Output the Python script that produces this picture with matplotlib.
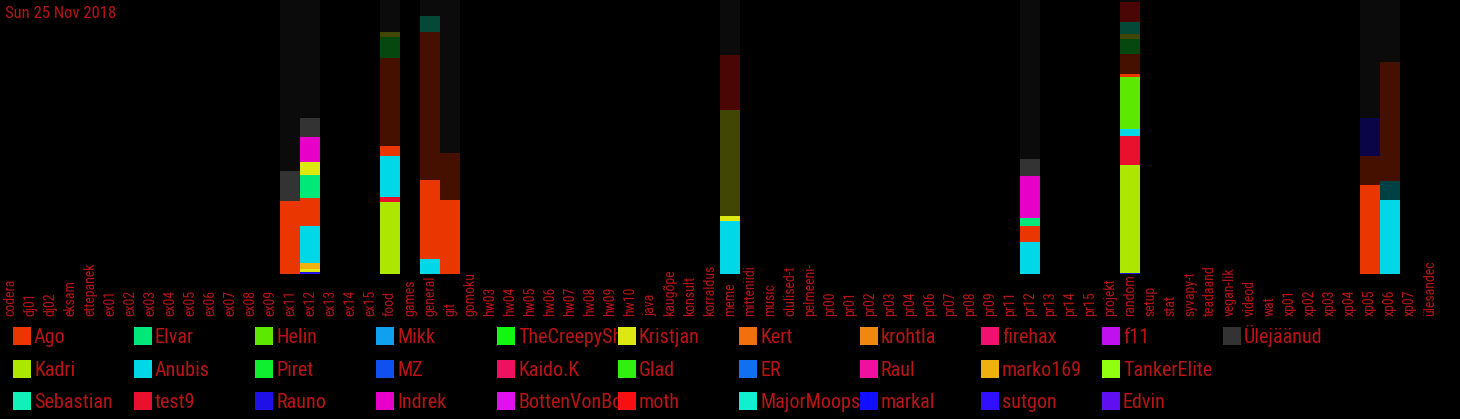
import matplotlib
matplotlib.use("Agg")
import matplotlib.pyplot as plt
import matplotlib.font_manager as fm
from matplotlib.patches import Rectangle
from matplotlib.transforms import blended_transform_factory, Bbox, TransformedBbox
from matplotlib.colors import to_rgb

# kanalid (x-telg)
channels = ["codera", "dj01", "dj02", "eksam", "ettepanek", "ex01", "ex02", "ex03",
            "ex04", "ex05", "ex06", "ex07", "ex08", "ex09", "ex11", "ex12", "ex13",
            "ex14", "ex15", "food", "games", "general", "git", "gomoku", "hw03",
            "hw04", "hw05", "hw06", "hw07", "hw08", "hw09", "hw10", "java", "kaugõpe",
            "konsult", "korraldus", "meme", "mitteniidi", "music", "olulised-t",
            "pelmeeni-", "pr00", "pr01", "pr02", "pr03", "pr04", "pr06", "pr07", "pr08",
            "pr09", "pr11", "pr12", "pr13", "pr14", "pr15", "projekt", "random", "setup",
            "stat", "syvapy-t", "teadaand", "vegan-lik", "videod", "wat", "xp01", "xp02",
            "xp03", "xp04", "xp05", "xp06", "xp07", "ülesandec"]

# kasutajad ja värvid (legendi järjekord)
users = ["Ago", "Kadri", "Sebastian", "Elvar", "Anubis", "test9", "Helin", "Piret",
         "Rauno", "Mikk", "MZ", "Indrek", "TheCreepySh", "Kaido.K", "BottenVonBot",
         "Kristjan", "Glad", "moth", "Kert", "ER", "MajorMoopsy", "krohtla", "Raul",
         "markal", "firehax", "marko169", "sutgon", "f11", "TankerElite", "Edvin",
         "Ülejäänud"]
user_colors = ["#ea3600", "#ade600", "#10f0b8", "#00e878", "#00d8e8", "#e8102c",
               "#5ce800", "#10ee30", "#2010e8", "#10a0f0", "#1050f0", "#e600c8",
               "#10f810", "#f01060", "#e010f0", "#dce810", "#30f010", "#f81010",
               "#f07010", "#1070f0", "#10f0d0", "#f08810", "#f010a0", "#1010ff",
               "#f01070", "#f0b010", "#3010ff", "#c010f0", "#90ff10", "#6010f0",
               "#333333"]

# osakaalud (%), alt üles; "~" = varasem periood (tumedam)
ex11_who = ["Ago", "Ülejäänud", "~Ülejäänud"]
ex11_val = [26.7, 11.0, 62.3]
ex12_who = ["Rauno", "Kristjan", "marko169", "Anubis", "Ago", "Elvar", "Kristjan",
            "Indrek", "Ülejäänud", "~Ülejäänud"]
ex12_val = [0.7, 1.1, 2.2, 13.6, 10.3, 8.4, 4.4, 9.2, 7.0, 43.1]
food_who = ["Kadri", "test9", "Anubis", "Ago", "~Ago", "~Piret", "~Kristjan", "~Ülejäänud"]
food_val = [26.4, 1.8, 14.7, 3.7, 32.2, 7.7, 1.8, 11.7]
general_who = ["Anubis", "Ago", "~Ago", "~Sebastian", "~Ülejäänud"]
general_val = [5.5, 28.9, 53.8, 5.9, 5.9]
git_who = ["Ago", "~Ago", "~Ülejäänud"]
git_val = [27.1, 17.2, 55.7]
meme_who = ["Anubis", "Kristjan", "~Kristjan", "~moth", "~Ülejäänud"]
meme_val = [19.4, 1.8, 38.5, 20.1, 20.2]
pr12_who = ["Anubis", "Ago", "Elvar", "Indrek", "Ülejäänud", "~Ülejäänud"]
pr12_val = [11.7, 5.9, 2.9, 15.4, 5.9, 58.2]
random_who = ["Rauno", "Kadri", "test9", "Anubis", "Helin", "Ago", "~Ago", "~Piret",
              "~Kristjan", "~Sebastian", "~moth", "~Ülejäänud"]
random_val = [0.4, 39.3, 10.5, 2.6, 19.0, 1.1, 7.3, 5.5, 1.8, 4.4, 7.3, 0.8]
xp05_who = ["Ago", "~Ago", "~Rauno", "~Ülejäänud"]
xp05_val = [32.6, 10.3, 13.9, 43.2]
xp06_who = ["Anubis", "~Anubis", "~Ago", "~Ülejäänud"]
xp06_val = [27.1, 7.0, 43.2, 22.7]

bars = {"ex11": (ex11_who, ex11_val), "ex12": (ex12_who, ex12_val),
        "food": (food_who, food_val), "general": (general_who, general_val),
        "git": (git_who, git_val), "meme": (meme_who, meme_val),
        "pr12": (pr12_who, pr12_val), "random": (random_who, random_val),
        "xp05": (xp05_who, xp05_val), "xp06": (xp06_who, xp06_val)}

date_text = "Sun 25 Nov 2018"

TXT = "#b81414"
cmap = dict(zip(users, user_colors))

# kitsas font, kui leidub
fp = fm.FontProperties(family="DejaVu Sans")
paths = [f.fname for f in fm.fontManager.ttflist]
for key in ["LiberationSansNarrow-Regular", "RobotoCondensed-Regular",
            "OpenSansCondensed", "DejaVuSansCondensed.ttf", "Roboto-Condensed"]:
    hit = [p for p in paths if key in p]
    if hit:
        fp = fm.FontProperties(fname=hit[0])
        break


def color_of(who):
    if who.startswith("~"):
        r, g, b = to_rgb(cmap[who[1:]])
        k = 0.22 if who == "~Ülejäänud" else 0.3
        return (r * k, g * k, b * k)
    return cmap[who]


W, H = 1460, 419
fig = plt.figure(figsize=(W / 100, H / 100), dpi=100, facecolor="black")
ax = fig.add_axes([0, 145 / H, 1440 / W, 274 / H])
ax.set_facecolor("black")

for name, (who, vals) in bars.items():
    i = channels.index(name)
    bottom = 0
    for w, v in zip(who, vals):
        ax.bar(i, v, bottom=bottom, width=1.0, color=color_of(w), linewidth=0)
        bottom += v

ax.set_xlim(-0.5, len(channels) - 0.5)
ax.set_ylim(0, 100)
ax.axis("off")

# kanalite nimed
tr = blended_transform_factory(ax.transData, fig.transFigure)
for i, ch in enumerate(channels):
    ax.text(i, (H - 316) / H, ch, transform=tr, rotation=90, ha="center",
            va="bottom", color=TXT, fontproperties=fp, fontsize=10, clip_on=False)

fig.text(5 / W, 1 - 13 / H, date_text, color=TXT, fontproperties=fp, fontsize=12,
         va="center", ha="left")

# legend
for k, (u, c) in enumerate(zip(users, user_colors)):
    col, row = k // 3, k % 3
    x0 = 13 + col * 121
    y0 = 327 + row * 32.5
    t = fig.text((x0 + 21) / W, 1 - (y0 + 16) / H, u, color=TXT, fontproperties=fp,
                 fontsize=14.5, va="baseline", ha="left", zorder=1)
    box = Bbox.from_extents((x0 + 20) / W, 1 - (y0 + 26) / H, (x0 + 121) / W, 1 - (y0 - 6) / H)
    t.set_clip_box(TransformedBbox(box, fig.transFigure))
    t.set_clip_on(True)
    fig.patches.append(Rectangle((x0 / W, 1 - (y0 + 18) / H), 18 / W, 18 / H,
                                 transform=fig.transFigure, facecolor=c,
                                 edgecolor="none", zorder=5))

fig.savefig("out.png", dpi=100, facecolor="black")
